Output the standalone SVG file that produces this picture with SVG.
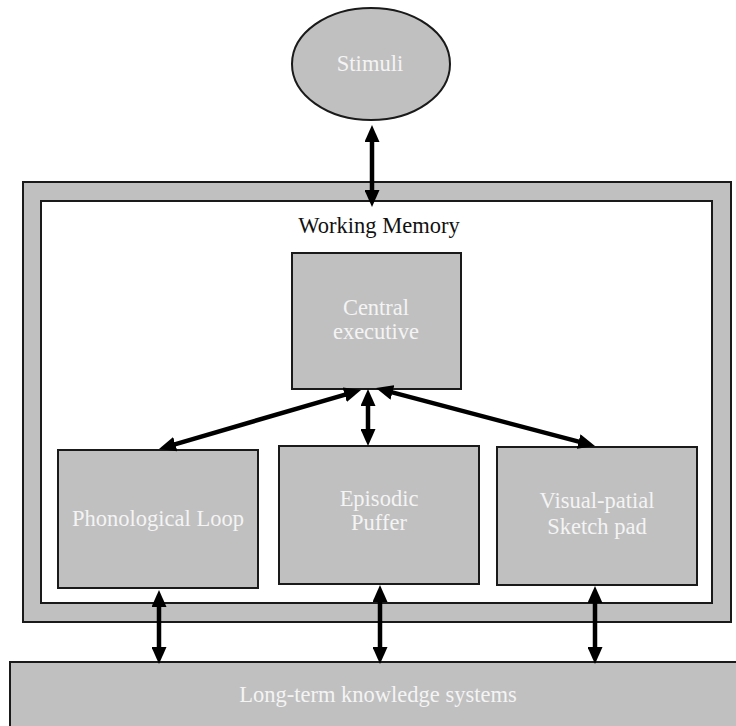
<svg xmlns="http://www.w3.org/2000/svg" width="736" height="726" viewBox="0 0 736 726">
<style>
.box{fill:#c0c0c0;stroke:#1a1a1a;stroke-width:2}
.lbl{font-family:"Liberation Serif","Times New Roman",serif;font-size:22.5px;fill:#f4f4f4;text-anchor:middle}
.dark{fill:#111}
.arr{stroke:#000;stroke-width:4.5;fill:none;marker-start:url(#ah);marker-end:url(#ah)}
</style>
<defs>
<marker id="ah" viewBox="0 0 17 15" markerWidth="17" markerHeight="15" refX="5" refY="7.5" markerUnits="userSpaceOnUse" orient="auto-start-reverse">
<path d="M0,0 L17,7.5 L0,15 z" fill="#000"/>
</marker>
</defs>
<rect width="736" height="726" fill="#fff"/>
<g id="ltk">
<rect class="box" x="10" y="662" width="740" height="80"/>
<text class="lbl" x="378" y="702">Long-term knowledge systems</text>
</g>
<g id="wm-frame">
<rect class="box" x="23" y="182" width="708" height="440"/>
<rect x="41" y="201" width="671" height="402" fill="#fff" stroke="#1a1a1a" stroke-width="2"/>
<text class="lbl dark" x="379" y="233">Working Memory</text>
</g>
<g id="stimuli">
<ellipse class="box" cx="371" cy="64" rx="79" ry="56"/>
<text class="lbl" x="370" y="71">Stimuli</text>
</g>
<g id="central">
<rect class="box" x="292" y="253" width="169" height="136"/>
<text class="lbl" x="376" y="315">Central</text>
<text class="lbl" x="376" y="339">executive</text>
</g>
<g id="phon">
<rect class="box" x="58" y="450" width="200" height="138"/>
<text class="lbl" x="158" y="526">Phonological Loop</text>
</g>
<g id="episodic">
<rect class="box" x="279" y="446" width="200" height="138"/>
<text class="lbl" x="379" y="506">Episodic</text>
<text class="lbl" x="379" y="530">Puffer</text>
</g>
<g id="visual">
<rect class="box" x="497" y="447" width="200" height="138"/>
<text class="lbl" x="597" y="508">Visual-patial</text>
<text class="lbl" x="597" y="534">Sketch pad</text>
</g>
<g id="connectors">
<line class="arr" x1="372" y1="137" x2="372" y2="195"/>
<line class="arr" x1="368" y1="401" x2="368" y2="434"/>
<line class="arr" x1="170.5" y1="445.6" x2="349.5" y2="393.3"/>
<line class="arr" x1="387.6" y1="391.1" x2="583.4" y2="442.9"/>
<line class="arr" x1="159" y1="602" x2="159" y2="652"/>
<line class="arr" x1="380" y1="597" x2="380" y2="652"/>
<line class="arr" x1="595" y1="598" x2="595" y2="652"/>
</g>
</svg>
